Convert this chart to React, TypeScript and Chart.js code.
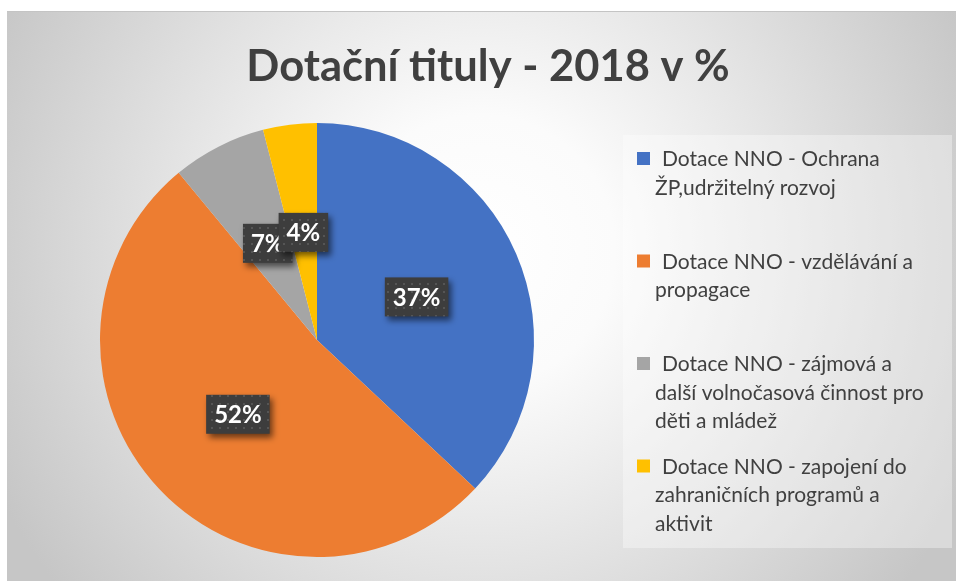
import React, { useEffect, useRef } from "react";
import { Chart, registerables } from "chart.js";

Chart.register(...registerables);

const chartTitle = "Dotační tituly - 2018 v %";
const categories: string[][] = [
  ["Dotace NNO - Ochrana", "ŽP,udržitelný rozvoj"],
  ["Dotace NNO - vzdělávání a", "propagace"],
  ["Dotace NNO - zájmová a", "další volnočasová činnost pro", "děti a mládež"],
  ["Dotace NNO - zapojení do", "zahraničních programů a", "aktivit"],
];
const values = [37, 52, 7, 4];
const colors = ["#4472C4", "#ED7D31", "#A5A5A5", "#FFC000"];

const W = 956;
const H = 581;
const TEXT = "#404040";

function makePattern(ctx: CanvasRenderingContext2D) {
  const c = document.createElement("canvas");
  c.width = 8;
  c.height = 8;
  const p = c.getContext("2d")!;
  p.fillStyle = "#3d3d3d";
  p.fillRect(0, 0, 8, 8);
  p.fillStyle = "#555555";
  p.fillRect(3, 3, 2, 2);
  return ctx.createPattern(c, "repeat")!;
}

const backgroundPlugin = {
  id: "bgPlugin",
  beforeDraw(chart: any) {
    const ctx = chart.ctx as CanvasRenderingContext2D;
    ctx.save();
    ctx.fillStyle = "#ffffff";
    ctx.fillRect(0, 0, W, H);
    const g = ctx.createRadialGradient(480, 250, 0, 480, 250, 540);
    g.addColorStop(0, "#ffffff");
    g.addColorStop(0.25, "#fbfbfb");
    g.addColorStop(1, "#c6c6c6");
    ctx.fillStyle = g;
    ctx.fillRect(7, 12, W - 7, H - 12);
    ctx.fillStyle = "#c4c4c4";
    ctx.fillRect(7, 11, W - 7, 1);
    // legend box
    ctx.fillStyle = "rgba(255,255,255,0.35)";
    ctx.fillRect(623, 135, 329, 413);
    ctx.restore();
  },
};

const titlePlugin = {
  id: "titlePlugin",
  afterDraw(chart: any) {
    const ctx = chart.ctx as CanvasRenderingContext2D;
    ctx.save();
    ctx.fillStyle = TEXT;
    ctx.font = "bold 43.5px Lato";
    ctx.textAlign = "center";
    ctx.textBaseline = "alphabetic";
    ctx.fillText(chartTitle, 488, 81);
    ctx.restore();
  },
};

const legendPlugin = {
  id: "legendPlugin",
  afterDraw(chart: any) {
    const ctx = chart.ctx as CanvasRenderingContext2D;
    ctx.save();
    ctx.font = "21px Lato";
    ctx.textAlign = "left";
    ctx.textBaseline = "alphabetic";
    categories.forEach((lines, i) => {
      const base = 166 + i * 102.5;
      ctx.fillStyle = colors[i];
      ctx.fillRect(637, base - 14, 13, 13);
      ctx.fillStyle = TEXT;
      lines.forEach((line, j) => {
        ctx.fillText(line, j === 0 ? 662 : 655, base + j * 28.7);
      });
    });
    ctx.restore();
  },
};

const labelPlugin = {
  id: "labelPlugin",
  afterDatasetsDraw(chart: any) {
    const ctx = chart.ctx as CanvasRenderingContext2D;
    const meta = chart.getDatasetMeta(0);
    const pattern = makePattern(ctx);
    ctx.save();
    ctx.font = "bold 24px Lato";
    ctx.textAlign = "center";
    ctx.textBaseline = "middle";
    meta.data.forEach((arc: any, i: number) => {
      const { x, y } = arc.getCenterPoint();
      const text = `${values[i]}%`;
      const tw = ctx.measureText(text).width;
      const bw = tw + 16;
      const bh = 39;
      ctx.save();
      ctx.shadowColor = "rgba(0,0,0,0.55)";
      ctx.shadowBlur = 6;
      ctx.shadowOffsetX = 3;
      ctx.shadowOffsetY = 4;
      ctx.fillStyle = pattern;
      ctx.fillRect(x - bw / 2, y - bh / 2, bw, bh);
      ctx.restore();
      ctx.fillStyle = "#ffffff";
      ctx.fillText(text, x, y + 1);
    });
    ctx.restore();
  },
};

export default function App() {
  const ref = useRef<HTMLCanvasElement>(null);
  useEffect(() => {
    document.body.style.margin = "0";
    const chart = new Chart(ref.current!, {
      type: "pie",
      data: {
        labels: categories.map((l) => l.join(" ")),
        datasets: [
          {
            data: values,
            backgroundColor: colors,
            borderWidth: 0,
          },
        ],
      },
      options: {
        responsive: false,
        animation: false,
        layout: { padding: { left: 100, right: 422, top: 123, bottom: 24 } },
        plugins: {
          legend: { display: false },
          title: { display: false },
          tooltip: { enabled: false },
        },
      },
      plugins: [backgroundPlugin, titlePlugin, legendPlugin, labelPlugin],
    });
    return () => chart.destroy();
  }, []);
  return <canvas ref={ref} width={W} height={H} style={{ display: "block" }} />;
}
